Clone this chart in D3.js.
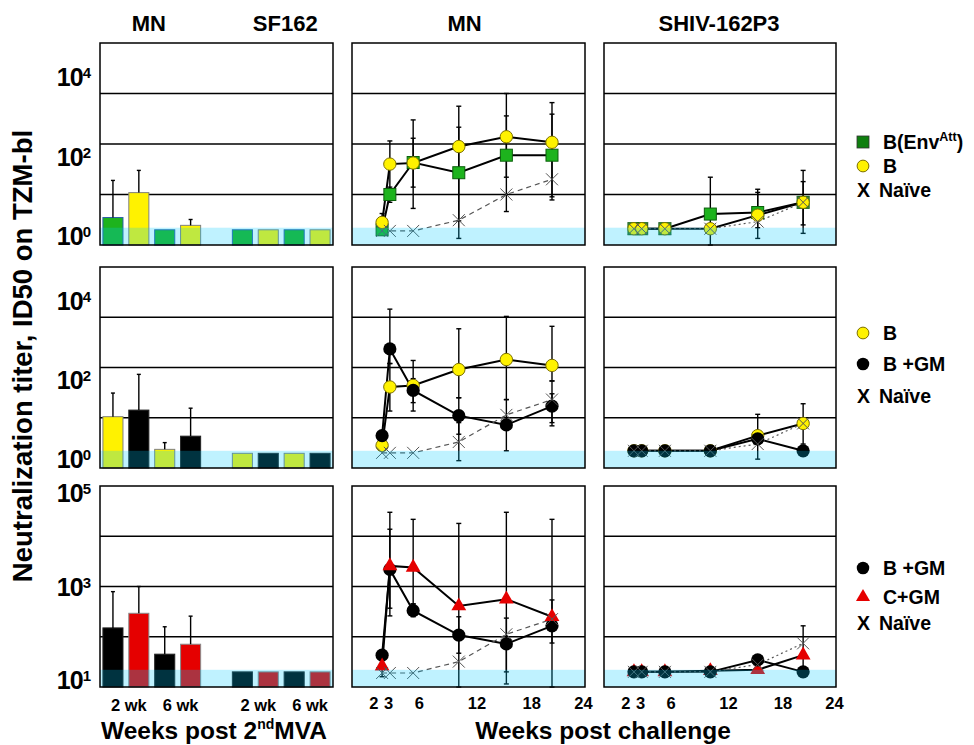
<!DOCTYPE html>
<html>
<head>
<meta charset="utf-8">
<script src="https://cdn.jsdelivr.net/npm/d3@7"></script>
<style>
  body { margin: 0; background: #fff; }
  svg text { font-family: "Liberation Sans", Arial, sans-serif; font-weight: bold; fill: #000; }
</style>
</head>
<body>
<svg id="chart"></svg>
<script>
const width = 974;
const height = 745;

// sampling weeks post challenge and axis ticks
const weeks = [3.1, 3.9, 6.3, 11, 15.9, 20.6];
const weekTicks = [2, 3, 6, 12, 18, 24];
const weekTickNudge = [2, 7, 8.5, 8, 4.5, -2];

// bar panels: 9 slots, slot "gap" separates MN and SF162
const barSlots = ['mn2a', 'mn2b', 'mn6a', 'mn6b', 'gap', 'sf2a', 'sf2b', 'sf6a', 'sf6b'];
const barLabels = ['2 wk', '6 wk', '2 wk', '6 wk'];

const bars1Group = ['envatt', 'b', 'envatt', 'b', null, 'envatt', 'b', 'envatt', 'b'];
const bars1Value = [3.5, 10.9, 2.0, 2.45, null, 2.0, 2.0, 2.0, 2.0];
const bars1Err = [19, 30, null, 3.2, null, null, null, null, null];

const bars2Group = ['b', 'bgm', 'b', 'bgm', null, 'b', 'bgm', 'b', 'bgm'];
const bars2Value = [10.5, 14.2, 2.35, 4.3, null, 1.96, 1.96, 1.96, 1.96];
const bars2Err = [31, 73, 3.2, 15.5, null, null, null, null, null];

const bars3Group = ['bgm', 'cgm', 'bgm', 'cgm', null, 'bgm', 'cgm', 'bgm', 'cgm'];
const bars3Value = [150, 293, 45, 71, null, 20, 20, 20, 20];
const bars3Err = [790, 1000, 158, 257, null, null, null, null, null];

// row 1 : B(EnvAtt), B, naive
const envAttMN = [2.0, 10, 43, 27, 60, 60];
const envAttMNErr = [null, [7, 14], [14, 130], [3, 215], [22, 360], [9, 390]];
const bMN = [2.8, 40, 42, 89, 139, 108];
const bMNErr = [[2.8, 4.2], [13, 115], [5.3, 300], [1.35, 560], [4.6, 1000], [7.8, 660]];
const naiveMN = [1.9, 1.9, 1.9, 3.1, 10, 20];

const envAttSHIV = [2.1, 2.1, 2.1, 4.1, 4.4, 7.0];
const envAttSHIVErr = [null, null, null, [1, 22], [1.35, 12.7], [1.7, 30]];
const bSHIV = [2.1, 2.1, 2.1, 2.1, 3.9, 7.0];
const bSHIVErr = [null, null, null, null, [2.2, 11], [2.5, 18]];
const naiveSHIV = [2.1, 2.1, 2.1, 2.1, 2.9, 7.0];

// row 2 : B, B+GM, naive
const b2MN = [2.8, 41, 44, 91, 144, 110];
const b2MNErr = [null, [13.6, 120], [13.6, 138], [25, 590], [23, 1040], [54, 660]];
const bgmMN = [4.4, 234, 35, 11, 7.2, 17];
const bgmMNErr = [null, [120, 1450], [20, 60], [4.7, 25], [2.2, 23], [6.9, 54]];
const naive2MN = [2.0, 2.0, 2.0, 3.3, 11.4, 23];
const naive2MNErr = [null, null, null, [1.4, 8], null, [8, 30]];

const b2SHIV = [2.2, 2.2, 2.2, 2.2, 4.4, 7.7];
const b2SHIVErr = [null, null, null, null, null, [3, 19]];
const bgmSHIV = [2.2, 2.2, 2.2, 2.2, 3.8, 2.2];
const bgmSHIVErr = [null, null, null, null, [1.5, 11.7], null];
const naive2SHIV = [2.2, 2.2, 2.2, 2.2, 3.0, 7.7];

// row 3 : B+GM, C+GM, naive
const bgm3MN = [43, 2190, 330, 108, 72, 165];
const bgm3MNErr = [null, [370, 13800], [250, 450], [47, 250], [20, 235], [75, 540]];
const cgmMN = [26, 2570, 2400, 410, 560, 250];
const cgmMNErr = [[16, 24], [260, 30000], [450, 21700], [10, 18000], [11.5, 30000], [10, 21700]];
const naive3MN = [19, 19, 19, 32, 112, 224];

const bgm3SHIV = [20, 20, 20, 20, 34.6, 20];
const cgmSHIV = [20, 20, 20, 21, 22, 43];
const naive3SHIV = [20, 20, 20, 20, 28, 74];
const naive3SHIVErr = [null, null, null, null, null, [25, 165]];

// layout
const cols = [{l: 100, r: 333}, {l: 352, r: 585}, {l: 604, r: 836}];
const rows = [{t: 43, b: 245}, {t: 267, b: 468}, {t: 486, b: 687}];
const yDomains = [[1, 1e4], [1, 1e4], [10, 1e5]];
const detectLimit = [2.2, 2.2, 22];
const yTickExp = [[0, 2, 4], [0, 2, 4], [1, 3, 5]];

const fills = {envatt: '#1db31d', b: '#fff200', bgm: '#000000', cgm: '#e50000'};
const barStroke = {envatt: '#2b5fa8', b: '#808080', bgm: '#222', cgm: '#8a8a8a'};

let svg = d3.select('#chart').attr('width', width).attr('height', height);

function panelY(r) {
    return d3.scaleLog().domain(yDomains[r]).range([rows[r].b, rows[r].t]);
}

const xWeek = cols.map(c => d3.scaleLinear().domain([0, 24]).range([c.l, c.r]));
const xBar = d3.scaleBand().domain(barSlots).range([cols[0].l, cols[0].r])
    .paddingInner(0.225).paddingOuter(0.1125);

function drawGrid(r, c) {
    const y = panelY(r);
    const e0 = Math.log10(yDomains[r][0]), e1 = Math.log10(yDomains[r][1]);
    const decades = d3.range(e0 + 1, e1).map(e => 10 ** e);
    svg.append('g').selectAll('line').data(decades).join('line')
        .attr('x1', cols[c].l).attr('x2', cols[c].r)
        .attr('y1', d => y(d)).attr('y2', d => y(d))
        .attr('stroke', '#000').attr('stroke-width', 1.3);
}

function drawBandAndBorder(r, c) {
    const y = panelY(r);
    svg.append('rect')
        .attr('x', cols[c].l).attr('y', y(detectLimit[r]))
        .attr('width', cols[c].r - cols[c].l).attr('height', rows[r].b - y(detectLimit[r]))
        .attr('fill', 'rgb(0,204,255)').attr('opacity', 0.25);
    svg.append('rect')
        .attr('x', cols[c].l).attr('y', rows[r].t)
        .attr('width', cols[c].r - cols[c].l).attr('height', rows[r].b - rows[r].t)
        .attr('fill', 'none').attr('stroke', '#000').attr('stroke-width', 1.5);
}

function errorBar(g, x, y0, y1) {
    g.append('line').attr('x1', x).attr('x2', x).attr('y1', y0).attr('y2', y1)
        .attr('stroke', '#000').attr('stroke-width', 1.4);
    [y0, y1].forEach(yy => g.append('line')
        .attr('x1', x - 2.5).attr('x2', x + 2.5).attr('y1', yy).attr('y2', yy)
        .attr('stroke', '#000').attr('stroke-width', 1.4));
}

function marker(g, grp, cx, cy, s = 1) {
    if (grp === 'envatt') {
        g.append('rect').attr('x', cx - 6 * s).attr('y', cy - 6 * s)
            .attr('width', 12 * s).attr('height', 12 * s)
            .attr('fill', fills.envatt).attr('stroke', '#0b5f0b').attr('stroke-width', 1);
    } else if (grp === 'b') {
        g.append('circle').attr('cx', cx).attr('cy', cy).attr('r', 6.2 * s)
            .attr('fill', fills.b).attr('stroke', '#7d7000').attr('stroke-width', 1);
    } else if (grp === 'bgm') {
        g.append('circle').attr('cx', cx).attr('cy', cy).attr('r', 6.6 * s)
            .attr('fill', fills.bgm);
    } else if (grp === 'cgm') {
        g.append('path').attr('d', d3.symbol(d3.symbolTriangle, 95 * s * s)())
            .attr('transform', `translate(${cx},${cy})`)
            .attr('fill', fills.cgm);
    } else {
        g.append('path').attr('d', 'M-6,-6L6,6M-6,6L6,-6')
            .attr('transform', `translate(${cx},${cy})`)
            .attr('fill', 'none').attr('stroke', '#555').attr('stroke-width', 1);
    }
}

function drawBars(r, groups, values, errs) {
    const y = panelY(r);
    const g = svg.append('g');
    const data = barSlots.map((s, i) => ({slot: s, group: groups[i], v: values[i], e: errs[i]}))
        .filter(d => d.group);
    g.selectAll('rect').data(data).join('rect')
        .attr('x', d => xBar(d.slot)).attr('y', d => y(d.v))
        .attr('width', xBar.bandwidth()).attr('height', d => rows[r].b - y(d.v))
        .attr('fill', d => fills[d.group]).attr('stroke', d => barStroke[d.group]).attr('stroke-width', 1);
    data.filter(d => d.e).forEach(d => {
        const cx = xBar(d.slot) + xBar.bandwidth() / 2;
        g.append('line').attr('x1', cx).attr('x2', cx).attr('y1', y(d.v)).attr('y2', y(d.e))
            .attr('stroke', '#000').attr('stroke-width', 1.4);
        g.append('line').attr('x1', cx - 2).attr('x2', cx + 2).attr('y1', y(d.e)).attr('y2', y(d.e))
            .attr('stroke', '#000').attr('stroke-width', 1.4);
    });
}

function drawLinePanel(r, c, series, naiveDash) {
    const y = panelY(r), x = xWeek[c];
    const g = svg.append('g');
    series.forEach(([grp, vals, errs]) => {
        if (!errs) return;
        errs.forEach((e, i) => { if (e) errorBar(g, x(weeks[i]), y(e[0]), y(e[1])); });
    });
    const line = d3.line().x((d, i) => x(weeks[i])).y(d => y(d));
    series.forEach(([grp, vals]) => {
        g.append('path').attr('d', line(vals)).attr('fill', 'none')
            .attr('stroke', grp === 'naive' ? '#555' : '#000')
            .attr('stroke-width', grp === 'naive' ? 1.2 : 2)
            .attr('stroke-dasharray', grp === 'naive' ? naiveDash : null);
    });
    series.forEach(([grp, vals]) => vals.forEach((v, i) => marker(g, grp, x(weeks[i]), y(v))));
}

function drawYLabels(r) {
    const lab = d3.scaleLog().domain(yDomains[r])
        .range(r < 2 ? [rows[r].b - 9, rows[r].t + 34] : [rows[r].b - 7, rows[r].t + 7]);
    yTickExp[r].forEach(e => {
        const t = svg.append('text').attr('x', 90).attr('y', lab(10 ** e) + 9)
            .attr('text-anchor', 'end').attr('font-size', 25).attr('letter-spacing', -1);
        t.append('tspan').text('10');
        t.append('tspan').attr('font-size', 15).attr('dy', -8).text(e);
    });
}

function main() {
    rows.forEach((row, r) => cols.forEach((col, c) => drawGrid(r, c)));

    drawBars(0, bars1Group, bars1Value, bars1Err);
    drawBars(1, bars2Group, bars2Value, bars2Err);
    drawBars(2, bars3Group, bars3Value, bars3Err);

    drawLinePanel(0, 1, [['envatt', envAttMN, envAttMNErr], ['b', bMN, bMNErr], ['naive', naiveMN, null]], '5,4');
    drawLinePanel(0, 2, [['envatt', envAttSHIV, envAttSHIVErr], ['b', bSHIV, bSHIVErr], ['naive', naiveSHIV, null]], '2,3');
    drawLinePanel(1, 1, [['b', b2MN, b2MNErr], ['bgm', bgmMN, bgmMNErr], ['naive', naive2MN, naive2MNErr]], '5,4');
    drawLinePanel(1, 2, [['b', b2SHIV, b2SHIVErr], ['bgm', bgmSHIV, bgmSHIVErr], ['naive', naive2SHIV, null]], '2,3');
    drawLinePanel(2, 1, [['bgm', bgm3MN, bgm3MNErr], ['cgm', cgmMN, cgmMNErr], ['naive', naive3MN, null]], '5,4');
    drawLinePanel(2, 2, [['cgm', cgmSHIV, null], ['bgm', bgm3SHIV, null], ['naive', naive3SHIV, naive3SHIVErr]], '2,3');

    rows.forEach((row, r) => cols.forEach((col, c) => drawBandAndBorder(r, c)));
    rows.forEach((row, r) => drawYLabels(r));

    // column titles
    const mid = (a, b) => (xBar(a) + xBar(b) + xBar.bandwidth()) / 2;
    [['MN', mid('mn2a', 'mn6b') - 3], ['SF162', mid('sf2a', 'sf6b') + 4],
     ['MN', (cols[1].l + cols[1].r) / 2 - 4], ['SHIV-162P3', (cols[2].l + cols[2].r) / 2 - 1]]
        .forEach(([t, x]) => svg.append('text').attr('x', x).attr('y', 31)
            .attr('text-anchor', 'middle').attr('font-size', 22).text(t));

    // bar x labels
    [['mn2a', 'mn2b'], ['mn6a', 'mn6b'], ['sf2a', 'sf2b'], ['sf6a', 'sf6b']].forEach((p, i) =>
        svg.append('text').attr('x', mid(p[0], p[1]) + 3).attr('y', 711)
            .attr('text-anchor', 'middle').attr('font-size', 16.5).text(barLabels[i]));

    // week axes
    [1, 2].forEach(c => {
        const ax = svg.append('g').attr('transform', `translate(0,${rows[2].b})`)
            .call(d3.axisBottom(xWeek[c]).tickValues(weekTicks).tickSize(0).tickPadding(10));
        ax.select('.domain').remove();
        ax.selectAll('text').attr('font-size', 16.5).attr('dx', (d, i) => weekTickNudge[i])
            .style('font-family', '"Liberation Sans", Arial, sans-serif').style('font-weight', 'bold');
    });

    // axis titles
    const xt = svg.append('text').attr('x', 214).attr('y', 739).attr('text-anchor', 'middle')
        .attr('font-size', 24.5);
    xt.append('tspan').text('Weeks post 2');
    xt.append('tspan').attr('font-size', 14).attr('dy', -10).text('nd');
    xt.append('tspan').attr('dy', 10).text('MVA');

    svg.append('text').attr('x', 603).attr('y', 739).attr('text-anchor', 'middle')
        .attr('font-size', 24.5).text('Weeks post challenge');

    svg.append('text').attr('transform', 'translate(32,356) rotate(-90)')
        .attr('text-anchor', 'middle').attr('font-size', 27.5)
        .text('Neutralization titer, ID50 on TZM-bl');

    // legends
    const lg = svg.append('g');
    function legendItem(grp, y, label, sup) {
        if (grp === 'naive') {
            lg.append('text').attr('x', 857).attr('y', y + 7).attr('font-size', 19.5).text('X');
        } else if (grp === 'envatt') {
            lg.append('rect').attr('x', 857).attr('y', y - 6).attr('width', 12).attr('height', 12)
                .attr('fill', '#0f7f0f').attr('stroke', '#333').attr('stroke-width', 0.8);
        } else {
            marker(lg, grp, 863, y, 0.95);
        }
        const t = lg.append('text').attr('x', grp === 'naive' ? 879 : 883).attr('y', y + 7).attr('font-size', 19.5);
        t.append('tspan').text(label);
        if (sup) {
            t.append('tspan').attr('font-size', 12.5).attr('dy', -8).text(sup);
            t.append('tspan').attr('dy', 8).text(')');
        }
    }
    legendItem('envatt', 142, 'B(Env', 'Att');
    legendItem('b', 166, 'B');
    legendItem('naive', 190, 'Naïve');
    legendItem('b', 333, 'B');
    legendItem('bgm', 364, 'B +GM');
    legendItem('naive', 396, 'Naïve');
    legendItem('bgm', 568, 'B +GM');
    legendItem('cgm', 597, 'C+GM');
    legendItem('naive', 623, 'Naïve');
}

main();
</script>
</body>
</html>
